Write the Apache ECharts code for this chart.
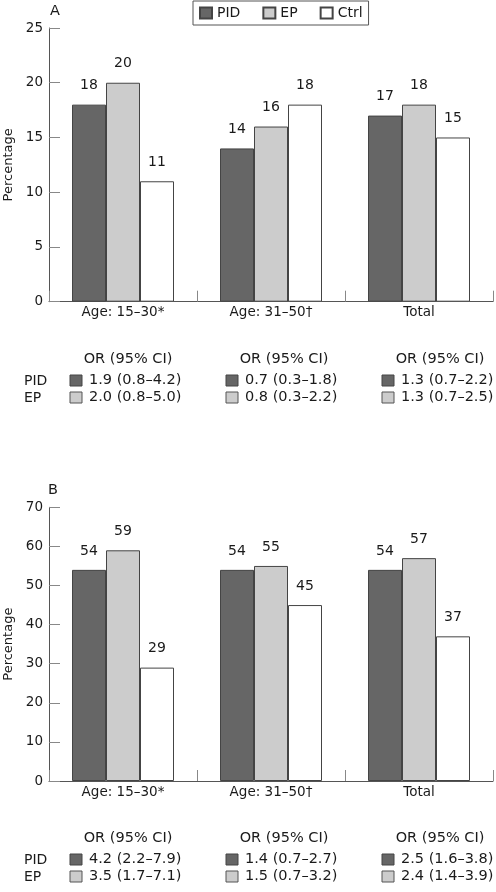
<!DOCTYPE html>
<html>
<head>
<meta charset="utf-8">
<script src="https://cdn.jsdelivr.net/npm/echarts@6/dist/echarts.min.js"></script>
<style>
html,body{margin:0;padding:0;background:#fff;}
#main{width:496px;height:892px;}
</style>
</head>
<body>
<div id="main"></div>
<script>
const categories = ['Age: 15–30*', 'Age: 31–50†', 'Total'];
const seriesNames = ['PID', 'EP', 'Ctrl'];
const panelA_PID = [18, 14, 17];
const panelA_EP = [20, 16, 18];
const panelA_Ctrl = [11, 18, 15];
const panelB_PID = [54, 54, 54];
const panelB_EP = [59, 55, 57];
const panelB_Ctrl = [29, 45, 37];
const yTicksA = [0, 5, 10, 15, 20, 25];
const yTicksB = [0, 10, 20, 30, 40, 50, 60, 70];
const orHeader = 'OR (95% CI)';
const orRowLabels = ['PID', 'EP'];
const orA_PID = ['1.9 (0.8–4.2)', '0.7 (0.3–1.8)', '1.3 (0.7–2.2)'];
const orA_EP = ['2.0 (0.8–5.0)', '0.8 (0.3–2.2)', '1.3 (0.7–2.5)'];
const orB_PID = ['4.2 (2.2–7.9)', '1.4 (0.7–2.7)', '2.5 (1.6–3.8)'];
const orB_EP = ['3.5 (1.7–7.1)', '1.5 (0.7–3.2)', '2.4 (1.4–3.9)'];

const FONT = 'DejaVu Sans';
const colors = {PID: '#666666', EP: '#cccccc', Ctrl: '#ffffff'};
const TXT = '#1a1a1a';

function xAxis(gi) {
  return {
    type: 'category', gridIndex: gi, data: categories,
    axisLine: {lineStyle: {color: '#555', width: 1}},
    axisTick: {show: true, inside: true, length: 11, alignWithLabel: false, interval: 0, lineStyle: {color: '#888'}},
    axisLabel: {color: TXT, fontFamily: FONT, fontSize: 13.5, margin: 4, interval: 0}
  };
}
function yAxis(gi, ticks) {
  const iv = ticks[1] - ticks[0];
  return {
    type: 'value', gridIndex: gi, min: ticks[0], max: ticks[ticks.length - 1], interval: iv,
    name: 'Percentage', nameLocation: 'middle', nameGap: 33,
    nameTextStyle: {color: TXT, fontFamily: FONT, fontSize: 13},
    axisLine: {show: true, lineStyle: {color: '#555', width: 1}},
    axisTick: {show: true, inside: true, length: 11, lineStyle: {color: '#888'}},
    axisLabel: {color: TXT, fontFamily: FONT, fontSize: 13.5, margin: 6},
    splitLine: {show: false}
  };
}
function bar(name, data, gi) {
  return {
    type: 'bar', name: name, xAxisIndex: gi, yAxisIndex: gi, data: data,
    barWidth: 34, barGap: '0%',
    itemStyle: {color: colors[name], borderColor: '#444', borderWidth: 1},
    label: {show: true, position: 'top', distance: 12, color: TXT, fontFamily: FONT, fontSize: 14},
    emphasis: {disabled: true},
    animation: false
  };
}

function tableGraphics(yHeader, yRow1, rowsPID, rowsEP) {
  const els = [];
  const swatchX = [70, 226, 382];
  els.push({type: 'text', x: 24, y: yRow1 + 1, style: {text: orRowLabels[0], fill: TXT, font: '14px "' + FONT + '"', textVerticalAlign: 'middle'}});
  els.push({type: 'text', x: 24, y: yRow1 + 18, style: {text: orRowLabels[1], fill: TXT, font: '14px "' + FONT + '"', textVerticalAlign: 'middle'}});
  for (let i = 0; i < 3; i++) {
    const sx = swatchX[i];
    els.push({type: 'text', x: sx + 58, y: yHeader, style: {text: orHeader, fill: TXT, font: '14.5px "' + FONT + '"', textAlign: 'center', textVerticalAlign: 'middle'}});
    els.push({type: 'rect', shape: {x: sx, y: yRow1 - 5, width: 12, height: 11}, style: {fill: colors.PID, stroke: '#444', lineWidth: 1}});
    els.push({type: 'text', x: sx + 19, y: yRow1, style: {text: rowsPID[i], fill: TXT, font: '14.5px "' + FONT + '"', textVerticalAlign: 'middle'}});
    els.push({type: 'rect', shape: {x: sx, y: yRow1 + 12, width: 12, height: 11}, style: {fill: colors.EP, stroke: '#555', lineWidth: 1}});
    els.push({type: 'text', x: sx + 19, y: yRow1 + 17, style: {text: rowsEP[i], fill: TXT, font: '14.5px "' + FONT + '"', textVerticalAlign: 'middle'}});
  }
  return els;
}

const chart = echarts.init(document.getElementById('main'), null, {renderer: 'canvas'});
const option = {
  backgroundColor: '#fff',
  animation: false,
  legend: {
    data: seriesNames, left: 193, top: 1, orient: 'horizontal',
    padding: [5, 6, 5, 6], itemGap: 22, itemWidth: 12, itemHeight: 11,
    borderColor: '#555', borderWidth: 1, backgroundColor: '#fff',
    textStyle: {color: TXT, fontFamily: FONT, fontSize: 14},
    icon: 'rect', selectedMode: false
  },
  grid: [
    {left: 49, right: 3, top: 28, height: 273.7, containLabel: false, outerBoundsMode: 'none'},
    {left: 49, right: 3, top: 507.3, height: 273.7, containLabel: false, outerBoundsMode: 'none'}
  ],
  xAxis: [xAxis(0), xAxis(1)],
  yAxis: [yAxis(0, yTicksA), yAxis(1, yTicksB)],
  series: [
    bar('PID', panelA_PID, 0), bar('EP', panelA_EP, 0), bar('Ctrl', panelA_Ctrl, 0),
    bar('PID', panelB_PID, 1), bar('EP', panelB_EP, 1), bar('Ctrl', panelB_Ctrl, 1)
  ],
  graphic: [
    {type: 'text', x: 55, y: 11, style: {text: 'A', fill: TXT, font: '14.5px "' + FONT + '"', textAlign: 'center', textVerticalAlign: 'middle'}},
    {type: 'text', x: 53, y: 490, style: {text: 'B', fill: TXT, font: '14.5px "' + FONT + '"', textAlign: 'center', textVerticalAlign: 'middle'}}
  ].concat(tableGraphics(359, 380, orA_PID, orA_EP))
   .concat(tableGraphics(838, 859, orB_PID, orB_EP))
};
chart.setOption(option);
</script>
</body>
</html>
